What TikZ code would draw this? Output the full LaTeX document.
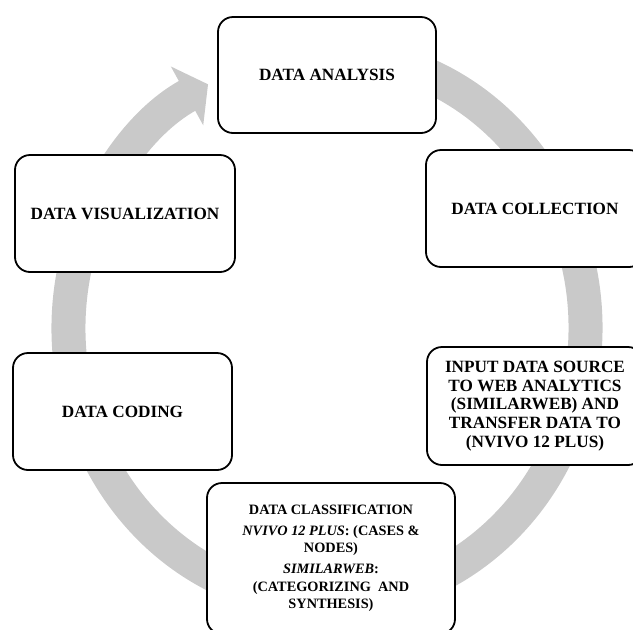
\documentclass[tikz,border=0pt]{standalone}
\usepackage{fontspec}
\setmainfont{Liberation Serif}
\usetikzlibrary{arrows.meta}
\definecolor{ringgray}{RGB}{201,201,201}
\begin{document}
\begin{tikzpicture}[x=1pt,y=-1pt,
  box/.style={draw=black, line width=1.8pt, rounded corners=15pt, fill=white, inner sep=0pt, align=center},
  big/.style={font=\fontsize{17.2}{18.8}\selectfont\bfseries},
  small/.style={font=\fontsize{14.3}{17.5}\selectfont\bfseries}]
\useasboundingbox (0,0) rectangle (633,630);
\clip (0,0) rectangle (633,630);
\coordinate (ctr) at (327,328);
\draw[ringgray, line width=34pt, line cap=butt, -{Triangle[length=24pt,width=66pt]}]
  (ctr) ++(80:258.5pt and 274.5pt)
  arc[start angle=80, end angle=-242.6, x radius=258.5pt, y radius=274.5pt];
\node[box, big, minimum width=218pt, minimum height=116pt] (ana) at (327,75) {DATA ANALYSIS};
\node[box, big, minimum width=218pt, minimum height=117pt] (col) at (535,208.5) {DATA COLLECTION};
\node[box, big, minimum width=216pt, minimum height=118pt] (inp) at (535,406)
  {INPUT DATA SOURCE\\TO WEB ANALYTICS\\(SIMILARWEB) AND\\TRANSFER DATA TO\\(NVIVO 12 PLUS)};
\node[box, small, minimum width=248pt, minimum height=151pt] (cls) at (331,558.5)
  {DATA CLASSIFICATION\\[3.5pt]\textit{NVIVO 12 PLUS}: (CASES \&\\NODES)\\[3.5pt]\textit{SIMILARWEB}:\\(CATEGORIZING~~AND\\SYNTHESIS)};
\node[box, big, minimum width=220pt, minimum height=117pt] (vis) at (125,213.5) {DATA VISUALIZATION};
\node[box, big, minimum width=219pt, minimum height=117pt] (cod) at (122.5,411.5) {DATA CODING};
\end{tikzpicture}
\end{document}
